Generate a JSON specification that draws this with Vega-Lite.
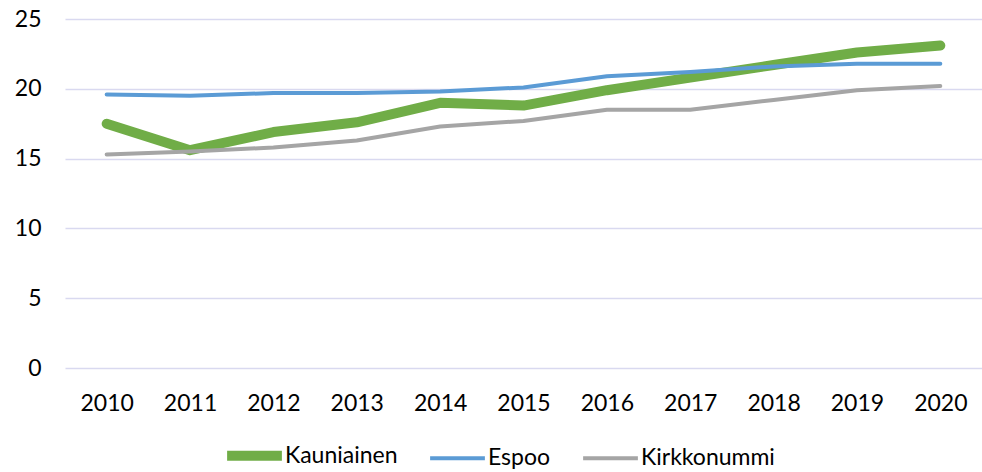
{
  "$schema": "https://vega.github.io/schema/vega-lite/v6.json",
  "width": 917,
  "height": 349,
  "autosize": "none",
  "padding": {"left": 65, "top": 19, "right": 0, "bottom": 104},
  "background": "white",
  "config": {
    "view": {"stroke": null},
    "font": "Lato",
    "axis": {"labelFont": "Lato", "labelColor": "#000000", "labelFontSize": 23},
    "legend": {"labelFont": "Lato", "labelColor": "#000000", "labelFontSize": 23}
  },
  "data": {
    "values": [
      {"year": "2010", "series": "Kauniainen", "value": 17.5},
      {"year": "2011", "series": "Kauniainen", "value": 15.6},
      {"year": "2012", "series": "Kauniainen", "value": 16.9},
      {"year": "2013", "series": "Kauniainen", "value": 17.6},
      {"year": "2014", "series": "Kauniainen", "value": 19.0},
      {"year": "2015", "series": "Kauniainen", "value": 18.8},
      {"year": "2016", "series": "Kauniainen", "value": 19.9},
      {"year": "2017", "series": "Kauniainen", "value": 20.8},
      {"year": "2018", "series": "Kauniainen", "value": 21.7},
      {"year": "2019", "series": "Kauniainen", "value": 22.6},
      {"year": "2020", "series": "Kauniainen", "value": 23.1},
      {"year": "2010", "series": "Espoo", "value": 19.6},
      {"year": "2011", "series": "Espoo", "value": 19.5},
      {"year": "2012", "series": "Espoo", "value": 19.7},
      {"year": "2013", "series": "Espoo", "value": 19.7},
      {"year": "2014", "series": "Espoo", "value": 19.8},
      {"year": "2015", "series": "Espoo", "value": 20.1},
      {"year": "2016", "series": "Espoo", "value": 20.9},
      {"year": "2017", "series": "Espoo", "value": 21.2},
      {"year": "2018", "series": "Espoo", "value": 21.6},
      {"year": "2019", "series": "Espoo", "value": 21.8},
      {"year": "2020", "series": "Espoo", "value": 21.8},
      {"year": "2010", "series": "Kirkkonummi", "value": 15.3},
      {"year": "2011", "series": "Kirkkonummi", "value": 15.5},
      {"year": "2012", "series": "Kirkkonummi", "value": 15.8},
      {"year": "2013", "series": "Kirkkonummi", "value": 16.3},
      {"year": "2014", "series": "Kirkkonummi", "value": 17.3},
      {"year": "2015", "series": "Kirkkonummi", "value": 17.7},
      {"year": "2016", "series": "Kirkkonummi", "value": 18.5},
      {"year": "2017", "series": "Kirkkonummi", "value": 18.5},
      {"year": "2018", "series": "Kirkkonummi", "value": 19.2},
      {"year": "2019", "series": "Kirkkonummi", "value": 19.9},
      {"year": "2020", "series": "Kirkkonummi", "value": 20.2}
    ]
  },
  "mark": {"type": "line", "strokeCap": "round", "strokeJoin": "round"},
  "encoding": {
    "x": {
      "field": "year", "type": "ordinal", "title": null,
      "scale": {"type": "point", "padding": 0.5},
      "axis": {"labelAngle": 0, "domain": false, "ticks": false, "grid": false, "labelPadding": 24}
    },
    "y": {
      "field": "value", "type": "quantitative", "title": null,
      "scale": {"domain": [0, 25], "nice": false},
      "axis": {"values": [0, 5, 10, 15, 20, 25], "domain": false, "ticks": false, "gridColor": "#D9D9F0", "gridWidth": 1.5, "labelPadding": 24}
    },
    "color": {
      "field": "series", "type": "nominal", "title": null,
      "scale": {"domain": ["Kauniainen", "Espoo", "Kirkkonummi"], "range": ["#70AD47", "#5B9BD5", "#A5A5A5"]},
      "legend": {
        "orient": "none", "legendX": 157, "legendY": 404, "direction": "horizontal", "columns": 3,
        "symbolType": "stroke", "symbolSize": 3000, "labelOffset": -2, "columnPadding": 24, "labelLimit": 300, "padding": 0
      }
    },
    "strokeWidth": {
      "field": "series", "type": "nominal",
      "scale": {"type": "ordinal", "domain": ["Kauniainen", "Espoo", "Kirkkonummi"], "range": [10, 4, 4]},
      "legend": null
    }
  }
}
